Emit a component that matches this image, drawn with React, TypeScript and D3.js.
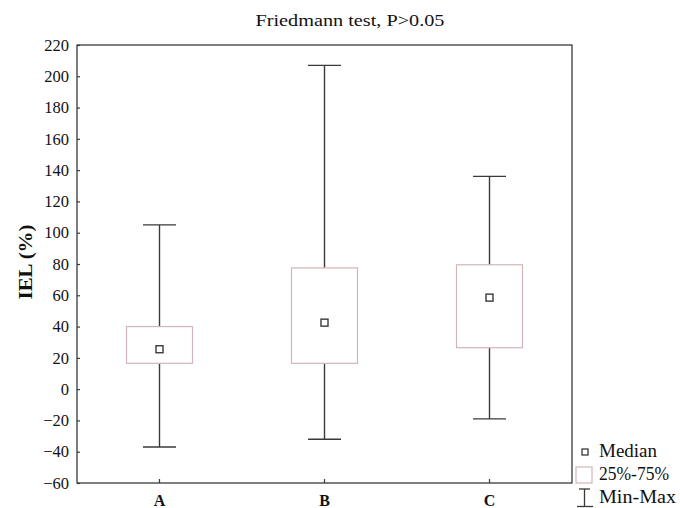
import React, { useEffect, useRef } from "react";
import * as d3 from "d3";

// groups and their summary stats
const groups = ["A", "B", "C"];
const mins = [-37, -32, -19];
const q1s = [16.5, 16.5, 26.5];
const medians = [25.5, 42.5, 58.5];
const q3s = [40, 77.5, 79.5];
const maxs = [105, 207, 136];
const yTicks = [-60, -40, -20, 0, 20, 40, 60, 80, 100, 120, 140, 160, 180, 200, 220];
const legendLabels = ["Median", "25%-75%", "Min-Max"];

const W = 680, H = 508;
const margin = { top: 45, right: 108, bottom: 25, left: 77 };

export default function App() {
  const ref = useRef<SVGSVGElement>(null);

  useEffect(() => {
    const svg = d3.select(ref.current);
    svg.selectAll("*").remove();

    const width = W - margin.left - margin.right;
    const height = H - margin.top - margin.bottom;
    const font = "'Liberation Serif', 'Times New Roman', serif";
    const dark = "#3a3a3a";
    const boxColor = "#d0b6b8";

    const g = svg.append("g")
      .attr("transform", "translate(" + margin.left + "," + margin.top + ")");

    const x = d3.scaleBand().domain(groups).range([0, width]);
    const y = d3.scaleLinear().domain([-60, 220]).range([height, 0]);

    // frame
    g.append("rect")
      .attr("x", 0).attr("y", 0)
      .attr("width", width).attr("height", height)
      .attr("fill", "none").attr("stroke", dark).attr("stroke-width", 1.3);

    // y axis, ticks pointing in
    const yAxis = g.append("g")
      .call(d3.axisLeft(y).tickValues(yTicks).tickSize(-3).tickPadding(8).tickFormat(d3.format("d")));
    yAxis.select(".domain").remove();
    yAxis.selectAll("line").attr("stroke", dark).attr("stroke-width", 1.2);
    yAxis.selectAll("text")
      .attr("font-family", font).attr("font-size", 16.5).attr("fill", "#111");

    // x axis
    const xAxis = g.append("g")
      .attr("transform", "translate(0," + height + ")")
      .call(d3.axisBottom(x).tickSize(-4).tickPadding(12));
    xAxis.select(".domain").remove();
    xAxis.selectAll("line").attr("stroke", dark).attr("stroke-width", 1.2);
    xAxis.selectAll("text")
      .attr("font-family", font).attr("font-size", 16).attr("font-weight", "bold").attr("fill", "#111");

    const boxW = 66, capW = 33, med = 7;

    groups.forEach((grp, i) => {
      const cx = (x(grp) as number) + x.bandwidth() / 2;
      // whiskers
      g.append("line")
        .attr("x1", cx).attr("x2", cx)
        .attr("y1", y(maxs[i])).attr("y2", y(mins[i]))
        .attr("stroke", dark).attr("stroke-width", 1.4);
      [maxs[i], mins[i]].forEach(v => {
        g.append("line")
          .attr("x1", cx - capW / 2).attr("x2", cx + capW / 2)
          .attr("y1", y(v)).attr("y2", y(v))
          .attr("stroke", dark).attr("stroke-width", 1.4);
      });
      // box
      g.append("rect")
        .attr("x", cx - boxW / 2).attr("width", boxW)
        .attr("y", y(q3s[i])).attr("height", y(q1s[i]) - y(q3s[i]))
        .attr("fill", "white").attr("stroke", boxColor).attr("stroke-width", 1.2);
      // median marker
      g.append("rect")
        .attr("x", cx - med / 2).attr("y", y(medians[i]) - med / 2)
        .attr("width", med).attr("height", med)
        .attr("fill", "white").attr("stroke", dark).attr("stroke-width", 1.4);
    });

    // title
    svg.append("text")
      .attr("x", 350).attr("y", 26)
      .attr("text-anchor", "middle")
      .attr("font-family", font).attr("font-size", 17.5).attr("fill", "#111")
      .attr("textLength", 189).attr("lengthAdjust", "spacingAndGlyphs")
      .text("Friedmann test, P>0.05");

    // y label
    svg.append("text")
      .attr("transform", "translate(32," + 262 + ") rotate(-90)")
      .attr("text-anchor", "middle")
      .attr("font-family", font).attr("font-size", 18).attr("font-weight", "bold").attr("fill", "#111")
      .attr("textLength", 75).attr("lengthAdjust", "spacingAndGlyphs")
      .text("IEL (%)");

    // legend
    const lg = svg.append("g");
    lg.append("rect")
      .attr("x", 582).attr("y", 449).attr("width", 6).attr("height", 6)
      .attr("fill", "white").attr("stroke", dark).attr("stroke-width", 1.3);
    lg.append("rect")
      .attr("x", 576).attr("y", 467).attr("width", 16).attr("height", 16)
      .attr("fill", "white").attr("stroke", boxColor).attr("stroke-width", 1.2);
    lg.append("line").attr("x1", 584.5).attr("x2", 584.5).attr("y1", 489).attr("y2", 506.5)
      .attr("stroke", dark).attr("stroke-width", 1.3);
    lg.append("line").attr("x1", 579).attr("x2", 590).attr("y1", 489).attr("y2", 489)
      .attr("stroke", dark).attr("stroke-width", 1.3);
    lg.append("line").attr("x1", 577).attr("x2", 593).attr("y1", 506.5).attr("y2", 506.5)
      .attr("stroke", dark).attr("stroke-width", 1.3);
    const baselines = [457, 480, 503];
    const lengths = [58, 70, 77];
    legendLabels.forEach((t, i) => {
      lg.append("text")
        .attr("x", 599).attr("y", baselines[i])
        .attr("font-family", font).attr("font-size", 18).attr("fill", "#111")
        .attr("textLength", lengths[i]).attr("lengthAdjust", "spacingAndGlyphs")
        .text(t);
    });
  }, []);

  return (
    <svg ref={ref} width={W} height={H}
      style={{ position: "absolute", left: 0, top: 0, background: "white" }} />
  );
}
